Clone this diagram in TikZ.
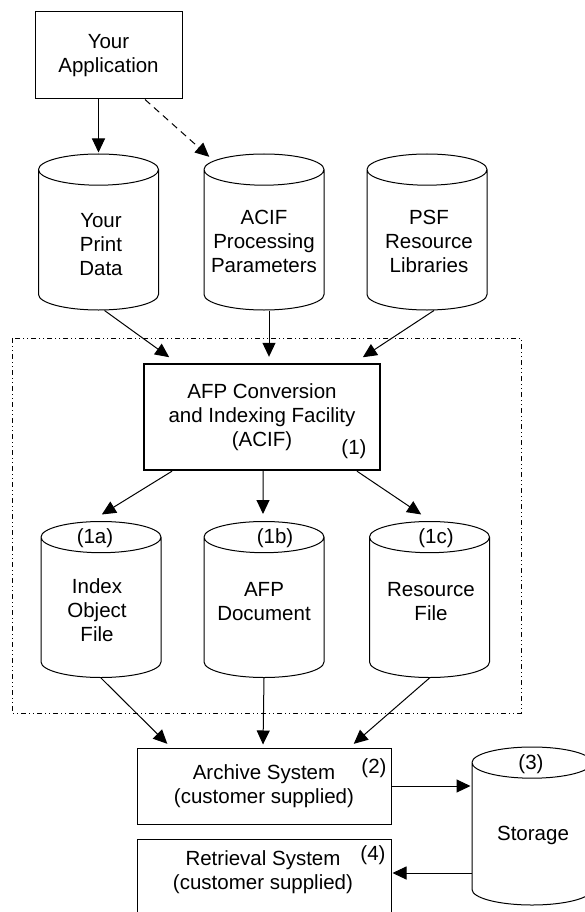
\documentclass[tikz,border=0pt]{standalone}
\usepackage{fontspec}
\setmainfont{Liberation Sans}
\usetikzlibrary{shapes.geometric,arrows.meta}
\newcommand{\boxfont}{\fontsize{20.5}{24}\selectfont}

\begin{document}
\begin{tikzpicture}[x=1pt,y=-1pt,->,>={Triangle[length=14pt,width=13pt]},shorten >=1pt,line width=1pt,
    box/.style={draw,rectangle,align=center,inner sep=0pt,font=\boxfont},
    store/.style={draw,cylinder,shape border rotate=90,aspect=0.26,text width=120pt,minimum width=120pt,minimum height=156pt,inner sep=0pt,anchor=shape center},
    lbl/.style={align=center,inner sep=0pt,font=\boxfont}]
            \useasboundingbox (0,0) rectangle (584,912);

            % input side
            \node[box,minimum width=147pt,minimum height=87pt] (app) at (108.5,55.5) {Your\\Application};
            \node[store] (data) at (98.5,232) {};
            \node[store] (params) at (264,232) {};
            \node[store] (psf) at (427,232) {};
            \node[lbl] at (101,245) {Your\\Print\\Data};
            \node[lbl] at (264,241) {ACIF\\Processing\\Parameters};
            \node[lbl] at (429,241) {PSF\\Resource\\Libraries};

            % ACIF and its output
            \draw[-,line width=0.6pt,dash pattern=on 5pt off 3pt on 1pt off 3pt on 1pt off 3pt] (12,338) rectangle (521,713);
            \node[box,line width=2.4pt,minimum width=236pt,minimum height=106pt] (acif) at (262,417) {AFP Conversion\\and Indexing Facility\\(ACIF)};
            \node[lbl] at (354,449) {(1)};
            \node[store] (index) at (101,599.5) {};
            \node[store] (afpdoc) at (264,599.5) {};
            \node[store] (resfile) at (429.5,599.5) {};
            \node[lbl] at (95,538) {(1a)};
            \node[lbl] at (275,538) {(1b)};
            \node[lbl] at (436,538) {(1c)};
            \node[lbl] at (97,610) {Index\\Object\\File};
            \node[lbl] at (264,602) {AFP\\Document};
            \node[lbl] at (431,602) {Resource\\File};

            % archive and retrieval
            \node[box,minimum width=254pt,minimum height=76pt] (archive) at (264,786) {Archive System\\(customer supplied)};
            \node[lbl] at (374,768) {(2)};
            \node[box,minimum width=254pt,minimum height=76pt] (retrieval) at (264,877) {};
            \node[lbl] at (263,872) {Retrieval System\\(customer supplied)};
            \node[lbl] at (373,855) {(4)};
            \node[store,minimum height=158pt] (storage) at (532,826) {};
            \node[lbl] at (531,764) {(3)};
            \node[lbl] at (533,835) {Storage};
            \coordinate (ret) at ([yshift=4pt]retrieval.east);

            \path
                (data.north |- app.south) edge (data.north)
                ([xshift=36.5pt]app.south) edge [dash pattern=on 7pt off 5pt] ([xshift=-54pt,yshift=-4pt]params.north)
                ([xshift=6pt]data.south) edge ([xshift=-92pt,yshift=5pt]acif.north)
                ([xshift=5pt]params.south) edge ([xshift=7pt,yshift=5pt]acif.north)
                ([xshift=7pt]psf.south) edge ([xshift=100pt,yshift=5pt]acif.north)
                ([xshift=-90pt]acif.south) edge ([yshift=6pt]index.north)
                ([xshift=1pt]acif.south) edge ([xshift=-1pt,yshift=6pt]afpdoc.north)
                ([xshift=95pt]acif.south) edge ([xshift=-7.5pt,yshift=6pt]resfile.north)
                (index.south) edge ([xshift=-96pt,yshift=3pt]archive.north)
                (afpdoc.south) edge ([xshift=-1pt,yshift=2pt]archive.north)
                (resfile.south) edge ([xshift=89pt,yshift=3pt]archive.north)
                (archive.east) edge (archive.east -| storage.west)
                (storage.west |- ret) edge (ret)
                ;
        \end{tikzpicture}
\end{document}
